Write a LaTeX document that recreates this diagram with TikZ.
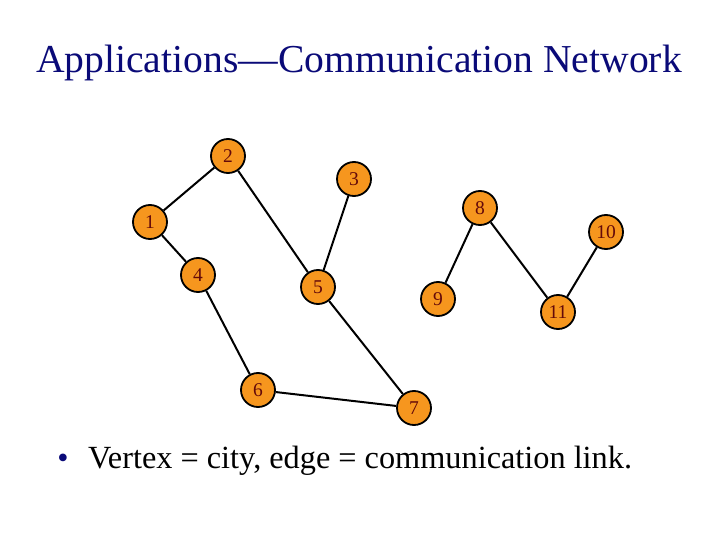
\documentclass[tikz,border=0pt]{standalone}
\usepackage{fontspec}
\setmainfont{Liberation Serif}
\definecolor{vfill}{RGB}{246,150,30}
\definecolor{vtext}{RGB}{100,10,10}
\definecolor{navy}{RGB}{10,10,120}
\begin{document}
\begin{tikzpicture}[x=1pt,y=-1pt,
  vertex/.style={circle,draw=black,line width=1.8pt,fill=vfill,minimum size=34pt,inner sep=0pt,text=vtext,font=\fontsize{19.5}{19.5}\selectfont},
  link/.style={line width=2pt,draw=black}]
\useasboundingbox (0,0) rectangle (720,540);
\node[anchor=base,text=navy,font=\fontsize{39.6}{40}\selectfont] (title) at (359,73) {Applications—Communication Network};
\node (v1) [vertex] at (150,222) {1};
\node (v2) [vertex] at (228,156) {2};
\node (v3) [vertex] at (354,179) {3};
\node (v4) [vertex] at (198,275) {4};
\node (v5) [vertex] at (318,287) {5};
\node (v6) [vertex] at (258,390) {6};
\node (v7) [vertex] at (414,408) {7};
\node (v8) [vertex] at (480,208) {8};
\node (v9) [vertex] at (438,299) {9};
\node (v10) [vertex] at (606,232) {10};
\node (v11) [vertex] at (558,312) {11};
\draw[link] (v1) -- (v2);
\draw[link] (v2) -- (v5);
\draw[link] (v3) -- (v5);
\draw[link] (v1) -- (v4);
\draw[link] (v4) -- (v6);
\draw[link] (v5) -- (v7);
\draw[link] (v6) -- (v7);
\draw[link] (v8) -- (v9);
\draw[link] (v8) -- (v11);
\draw[link] (v10) -- (v11);
\node[anchor=base,text=navy,font=\fontsize{32}{32}\selectfont] (bul) at (63,468) {•};
\node[anchor=base west,inner sep=0pt,font=\fontsize{32.3}{32}\selectfont] (cap) at (88,468) {Vertex = city, edge = communication link.};
\end{tikzpicture}
\end{document}
